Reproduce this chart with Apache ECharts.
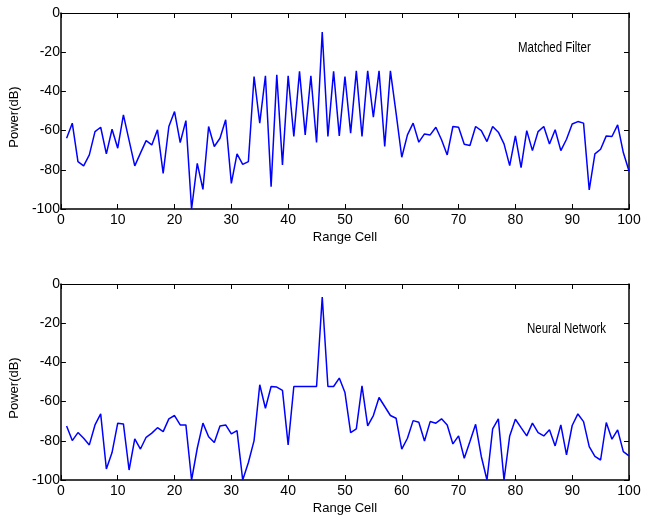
<!DOCTYPE html>
<html>
<head>
<meta charset="utf-8">
<script src="https://cdn.jsdelivr.net/npm/echarts@6/dist/echarts.min.js"></script>
<style>
  html, body { margin: 0; padding: 0; background: #fff; }
  #chart { width: 653px; height: 519px; }
</style>
</head>
<body>
<div id="chart"></div>
<script>
// Range cells 1..100
const rangeCells = Array.from({ length: 100 }, (_, i) => i + 1);

// Output power (dB) of the matched filter per range cell
const matchedFilter = [
  -63.9, -56.2, -75.8, -78.0, -72.4, -60.5, -58.3, -71.9, -59.3, -69.0,
  -52.0, -65.0, -78.0, -71.5, -65.1, -67.3, -59.6, -81.8, -57.9, -50.3,
  -66.1, -54.9, -100.0, -76.7, -90.0, -57.9, -68.1, -63.9, -54.5, -86.9,
  -71.9, -77.2, -75.8, -32.4, -56.2, -32.0, -88.6, -31.5, -77.5, -32.0,
  -63.0, -29.8, -62.2, -32.0, -66.1, -9.7, -63.0, -29.8, -62.7, -32.4,
  -61.3, -29.5, -63.0, -29.5, -53.2, -29.5, -68.1, -29.5, -51.1, -73.6,
  -62.2, -56.2, -65.9, -61.7, -62.2, -58.3, -64.7, -72.4, -57.9, -58.3,
  -67.0, -67.6, -57.9, -60.0, -65.6, -57.9, -60.8, -66.8, -77.9, -62.7,
  -78.9, -60.0, -70.2, -60.5, -57.9, -66.8, -59.6, -70.2, -64.4, -56.6,
  -55.4, -56.2, -90.3, -71.9, -69.5, -62.7, -63.0, -57.1, -71.2, -80.6
];

// Output power (dB) of the neural network per range cell
const neuralNetwork = [
  -72.4, -79.9, -75.8, -78.7, -82.1, -71.9, -66.3, -94.4, -86.0, -71.0,
  -71.4, -94.9, -79.0, -84.2, -78.2, -76.1, -73.3, -75.3, -68.8, -67.1,
  -71.9, -71.9, -100.0, -83.8, -71.0, -77.9, -80.9, -72.4, -71.9, -76.5,
  -74.8, -100.0, -91.1, -79.9, -51.4, -63.4, -52.3, -52.6, -54.3, -82.1,
  -52.3, -52.3, -52.3, -52.3, -52.3, -6.6, -52.3, -52.3, -48.0, -55.4,
  -75.8, -73.9, -52.0, -72.4, -67.1, -57.9, -62.5, -67.1, -68.5, -84.2,
  -78.7, -69.7, -70.5, -80.1, -70.2, -71.0, -68.8, -71.9, -81.6, -77.5,
  -88.9, -80.4, -71.6, -88.0, -100.0, -73.9, -68.8, -100.0, -77.5, -69.0,
  -73.3, -77.5, -71.0, -75.8, -77.5, -74.4, -82.6, -71.9, -87.2, -72.2,
  -66.3, -70.2, -83.0, -88.0, -89.8, -70.7, -79.2, -74.4, -85.5, -87.7
];

const xLabelName = 'Range Cell';
const yLabelName = 'Power(dB)';
const panelTitles = ['Matched Filter', 'Neural Network'];

const FONT = "'Liberation Sans', Arial, sans-serif";

const chart = echarts.init(document.getElementById('chart'), null, { renderer: 'canvas' });

const grids = [
  { left: 52, top: 13, width: 577, height: 196 },
  { left: 52, top: 284, width: 577, height: 196 }
];

function pairs(values) {
  return rangeCells.map((x, i) => [x, values[i]]);
}

const xAxes = [];
const yAxes = [];
grids.forEach((g, gi) => {
  // bottom x axis with labels
  xAxes.push({
    gridIndex: gi, type: 'value', min: 0, max: 100, interval: 10, position: 'bottom',
    name: xLabelName, nameLocation: 'middle', nameGap: 22,
    nameTextStyle: { fontFamily: FONT, fontSize: 13, color: '#000' },
    axisLine: { show: true, onZero: false, lineStyle: { color: '#000', width: 1.5 } },
    axisTick: { show: true, inside: true, length: 5, lineStyle: { color: '#000' } },
    axisLabel: { show: true, fontFamily: FONT, fontSize: 14, color: '#000', margin: 4 },
    splitLine: { show: false }
  });
  // top x axis: ticks only
  xAxes.push({
    gridIndex: gi, type: 'value', min: 0, max: 100, interval: 10, position: 'top',
    axisLine: { show: true, onZero: false, lineStyle: { color: '#000', width: 1 } },
    axisTick: { show: true, inside: true, length: 5, lineStyle: { color: '#000' } },
    axisLabel: { show: false }, splitLine: { show: false }
  });
  // left y axis with labels
  yAxes.push({
    gridIndex: gi, type: 'value', min: -100, max: 0, interval: 20, position: 'left',
    name: yLabelName, nameLocation: 'middle', nameGap: 31,
    nameTextStyle: { fontFamily: FONT, fontSize: 13, color: '#000', padding: [0, 12, 0, 0] },
    axisLine: { show: true, onZero: false, lineStyle: { color: '#000', width: 1.5 } },
    axisTick: { show: true, inside: true, length: 5, lineStyle: { color: '#000' } },
    axisLabel: { show: true, fontFamily: FONT, fontSize: 14, color: '#000', margin: 1 },
    splitLine: { show: false }
  });
  // right y axis: ticks only
  yAxes.push({
    gridIndex: gi, type: 'value', min: -100, max: 0, interval: 20, position: 'right',
    axisLine: { show: true, onZero: false, lineStyle: { color: '#000', width: 1.5 } },
    axisTick: { show: true, inside: true, length: 5, lineStyle: { color: '#000' } },
    axisLabel: { show: false }, splitLine: { show: false }
  });
});

const seriesData = [matchedFilter, neuralNetwork];

chart.setOption({
  animation: false,
  backgroundColor: '#fff',
  grid: grids,
  xAxis: xAxes,
  yAxis: yAxes,
  series: seriesData.map((vals, gi) => ({
    type: 'line',
    xAxisIndex: gi * 2,
    yAxisIndex: gi * 2,
    data: pairs(vals),
    showSymbol: false,
    clip: true,
    lineStyle: { color: '#0000ff', width: 1.5 },
    itemStyle: { color: '#0000ff' }
  })),
  // panel captions, drawn in a condensed face
  graphic: [
    {
      type: 'text', x: 518, y: 41, scaleX: 0.82,
      style: { text: panelTitles[0], font: '14px ' + FONT, fill: '#000' }
    },
    {
      type: 'text', x: 527, y: 322, scaleX: 0.82,
      style: { text: panelTitles[1], font: '14px ' + FONT, fill: '#000' }
    }
  ]
});
</script>
</body>
</html>
